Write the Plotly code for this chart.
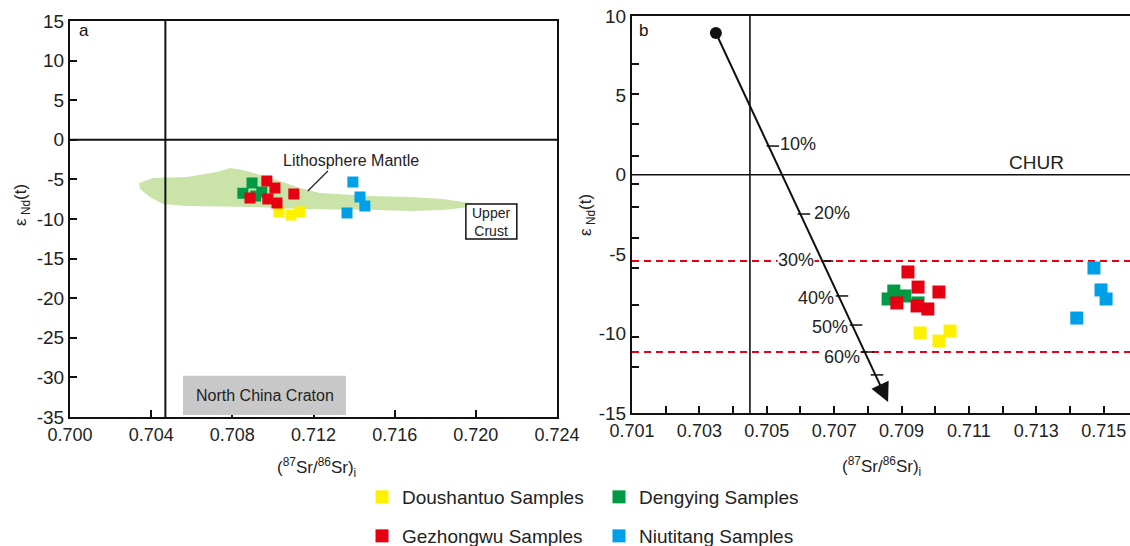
import plotly.graph_objects as go

FONT = "Liberation Sans, Arial, sans-serif"
W, H = 1130, 546

# ---------------- Data: panel a ----------------
a_dou_x = [0.7103, 0.71089, 0.71133]
a_dou_y = [-9.1, -9.5, -9.1]
a_den_x = [0.70897, 0.70852, 0.70945, 0.70915]
a_den_y = [-5.45, -6.75, -6.6, -7.1]
a_gez_x = [0.7097, 0.7101, 0.71103, 0.70887, 0.70975, 0.7102]
a_gez_y = [-5.2, -6.09, -6.84, -7.35, -7.47, -7.98]
a_niu_x = [0.71394, 0.71429, 0.71453, 0.71365]
a_niu_y = [-5.33, -7.22, -8.36, -9.24]

# Lithosphere mantle field outline
lm_x = [0.70340, 0.70409, 0.70576, 0.70724, 0.70788, 0.70852, 0.70936, 0.71020,
        0.71133, 0.71232, 0.71478, 0.71675, 0.71837, 0.71970, 0.72010, 0.71970,
        0.71837, 0.71675, 0.71512, 0.71133, 0.70901, 0.70576, 0.70458, 0.70394, 0.70345]
lm_y = [-5.45, -4.82, -4.70, -4.07, -3.56, -3.81, -4.44, -5.08,
        -6.09, -6.72, -7.10, -7.22, -7.47, -7.98, -8.23, -8.48,
        -8.86, -8.99, -8.86, -8.74, -8.48, -8.36, -8.11, -7.22, -6.20]

# tick labels
a_xticks = [0.700, 0.704, 0.708, 0.712, 0.716, 0.720, 0.724]
a_xlabels = ["0.700", "0.704", "0.708", "0.712", "0.716", "0.720", "0.724"]
a_yticks = [-35, -30, -25, -20, -15, -10, -5, 0, 5, 10, 15]
a_ylabels = ["-35", "-30", "-25", "-20", "-15", "-10", "-5", "0", "5", "10", "15"]
b_yticks = [-15, -10, -5, 0, 5, 10]
b_ylabels = ["-15", "-10", "-5", "0", "5", "10"]
b_yminor = [7.0, 5.1, 3.2, 1.2, -0.6, -2.0, -4.0, -5.9, -8.2, -10.2, -12.1]

# ---------------- Data: panel b ----------------
b_dou_x = [0.70955, 0.71011, 0.71044]
b_dou_y = [-9.96, -10.47, -9.84]
b_den_x = [0.70877, 0.70860, 0.70910, 0.70949]
b_den_y = [-7.32, -7.82, -7.63, -8.07]
b_gez_x = [0.70919, 0.70949, 0.71011, 0.70886, 0.70946, 0.70978]
b_gez_y = [-6.12, -7.07, -7.38, -8.07, -8.26, -8.45]
b_niu_x = [0.71471, 0.71492, 0.71507, 0.71420]
b_niu_y = [-5.87, -7.25, -7.82, -9.02]

# mixing line
mix_start = (0.70349, 8.93)
mix_end = (0.70860, -14.31)
mix_pct = ["10%", "20%", "30%", "40%", "50%", "60%"]
mix_tick_x = [0.70518, 0.70610, 0.70679, 0.70723, 0.70765, 0.70800, 0.70827]
mix_tick_y = [1.81, -2.47, -5.43, -7.63, -9.46, -11.16, -12.6]
mix_lab_x = [0.70593, 0.70693, 0.70587, 0.70646, 0.70688, 0.70723]
mix_lab_y = [1.94, -2.41, -5.37, -7.76, -9.58, -11.47]
dash_y = [-5.43, -11.16]

BSE_A = 0.7047
BSE_B = 0.7045

groups = ["Doushantuo Samples", "Dengying Samples", "Gezhongwu Samples", "Niutitang Samples"]
colors = ["#fff100", "#009944", "#e60012", "#00a0e9"]
legends = ["legend", "legend", "legend2", "legend2"]

fig = go.Figure()

# ---- panel a ----
fig.add_trace(go.Scatter(x=lm_x, y=lm_y, fill="toself", mode="lines",
                         line=dict(width=0, color="#c9e3a9"), fillcolor="#c9e3a9",
                         showlegend=False, hoverinfo="skip", xaxis="x", yaxis="y"))
a_sets = [(a_dou_x, a_dou_y), (a_den_x, a_den_y), (a_gez_x, a_gez_y), (a_niu_x, a_niu_y)]
for i in range(4):
    xs, ys = a_sets[i]
    fig.add_trace(go.Scatter(x=xs, y=ys, mode="markers", name=groups[i],
                             marker=dict(symbol="square", size=11, color=colors[i]),
                             showlegend=False, xaxis="x", yaxis="y"))

# ---- panel b ----
b_sets = [(b_dou_x, b_dou_y), (b_den_x, b_den_y), (b_gez_x, b_gez_y), (b_niu_x, b_niu_y)]
for i in range(4):
    xs, ys = b_sets[i]
    fig.add_trace(go.Scatter(x=xs, y=ys, mode="markers", name=groups[i],
                             marker=dict(symbol="square", size=13, color=colors[i]),
                             legend=legends[i], showlegend=True, xaxis="x2", yaxis="y2"))

fig.add_trace(go.Scatter(x=mix_tick_x, y=mix_tick_y, mode="markers",
                         marker=dict(symbol="line-ew-open", size=9, color="#111",
                                     line=dict(width=1.5, color="#111")),
                         showlegend=False, hoverinfo="skip", xaxis="x2", yaxis="y2"))
fig.add_trace(go.Scatter(x=[mix_start[0]], y=[mix_start[1]], mode="markers",
                         marker=dict(symbol="circle", size=12, color="#111"),
                         showlegend=False, hoverinfo="skip", xaxis="x2", yaxis="y2"))

shapes = []
shapes.append(dict(type="line", xref="x", yref="y domain", x0=BSE_A, x1=BSE_A, y0=0, y1=1,
                   line=dict(color="#111", width=2)))
shapes.append(dict(type="line", xref="x domain", yref="y", x0=0, x1=1, y0=0, y1=0,
                   line=dict(color="#111", width=2)))
shapes.append(dict(type="rect", xref="x", yref="y", x0=0.70557, x1=0.71360, y0=-34.75, y1=-29.8,
                   fillcolor="#c8c8c8", line=dict(width=0), layer="above"))
shapes.append(dict(type="rect", xref="x", yref="y", x0=0.71951, x1=0.72202, y0=-12.53, y1=-8.11,
                   fillcolor="white", line=dict(width=1.5, color="#111"), layer="above"))
shapes.append(dict(type="line", xref="x", yref="y", x0=0.71271, y0=-3.94, x1=0.71172, y1=-6.46,
                   line=dict(color="#222", width=1.2)))
shapes.append(dict(type="line", xref="x2", yref="y2 domain", x0=BSE_B, x1=BSE_B, y0=0, y1=1,
                   line=dict(color="#111", width=1.6)))
shapes.append(dict(type="line", xref="x2 domain", yref="y2", x0=0, x1=1, y0=0, y1=0,
                   line=dict(color="#111", width=1.6)))
for yv in dash_y:
    shapes.append(dict(type="line", xref="x2 domain", yref="y2", x0=0, x1=1, y0=yv, y1=yv,
                       line=dict(color="#e60012", width=2, dash="7px,5px"), layer="below"))

ann = []
ann.append(dict(text="a", x=84 / W, y=1 - 30 / H, xref="paper", yref="paper", showarrow=False,
                xanchor="center", yanchor="middle", font=dict(size=17, color="#111")))
ann.append(dict(text="b", x=643 / W, y=1 - 30 / H, xref="paper", yref="paper", showarrow=False,
                xanchor="center", yanchor="middle", font=dict(size=17, color="#111")))
ann.append(dict(text="Lithosphere Mantle", x=0.71384, y=-2.55, xref="x", yref="y", showarrow=False,
                font=dict(size=16, color="#222")))
ann.append(dict(text="Upper<br>Crust", x=(0.71951 + 0.72202) / 2, y=(-12.53 - 8.11) / 2, xref="x", yref="y",
                showarrow=False, font=dict(size=14, color="#222")))
ann.append(dict(text="North China Craton", x=(0.70557 + 0.71360) / 2, y=-32.3, xref="x", yref="y",
                showarrow=False, font=dict(size=16, color="#222")))
ann.append(dict(text="CHUR", x=0.71300, y=0, xref="x2", yref="y2", yanchor="bottom", yshift=0,
                showarrow=False, font=dict(size=19, color="#222")))
for t, lx, ly in zip(mix_pct, mix_lab_x, mix_lab_y):
    ann.append(dict(text=t, x=lx, y=ly, xref="x2", yref="y2", showarrow=False,
                    bgcolor="white", borderpad=0, font=dict(size=18, color="#222")))
ann.append(dict(x=mix_end[0], y=mix_end[1], ax=mix_start[0], ay=mix_start[1],
                xref="x2", yref="y2", axref="x2", ayref="y2", text="", showarrow=True,
                arrowhead=2, arrowsize=1.9, arrowwidth=2, arrowcolor="#111"))
# axis titles
ann.append(dict(text="ε<sub> Nd</sub>(t)", x=22 / W, y=1 - 205 / H, xref="paper", yref="paper",
                xanchor="center", yanchor="middle",
                textangle=-90, showarrow=False, font=dict(size=17, color="#222")))
ann.append(dict(text="ε<sub> Nd</sub>(t)", x=587 / W, y=1 - 215 / H, xref="paper", yref="paper",
                xanchor="center", yanchor="middle",
                textangle=-90, showarrow=False, font=dict(size=17, color="#222")))
ann.append(dict(text="(<sup>87</sup>Sr/<sup>86</sup>Sr)<sub>i</sub>", x=316 / W, y=1 - 467 / H,
                xanchor="center", yanchor="middle",
                xref="paper", yref="paper", showarrow=False, font=dict(size=17, color="#222")))
ann.append(dict(text="(<sup>87</sup>Sr/<sup>86</sup>Sr)<sub>i</sub>", x=882 / W, y=1 - 466 / H,
                xanchor="center", yanchor="middle",
                xref="paper", yref="paper", showarrow=False, font=dict(size=17, color="#222")))

axis_common = dict(showgrid=False, zeroline=False, showline=True, linecolor="#111", linewidth=2,
                   ticks="inside", tickcolor="#111", tickwidth=1.5, automargin=False)

fig.update_layout(
    width=W, height=H, margin=dict(l=0, r=0, t=0, b=0, autoexpand=False),
    paper_bgcolor="white", plot_bgcolor="white",
    font=dict(family=FONT, color="#222"),
    xaxis=dict(domain=[70 / W, 557 / W], range=[0.700, 0.724], tickvals=a_xticks, ticktext=a_xlabels,
               mirror=True, anchor="y", ticklen=7, tickfont=dict(size=18, color="#222"), **axis_common),
    yaxis=dict(domain=[1 - 417 / H, 1 - 21 / H], range=[-35, 15], tickvals=a_yticks, ticktext=a_ylabels,
               mirror=True, anchor="x", ticklen=7, tickfont=dict(size=19, color="#222"), **axis_common),
    xaxis2=dict(domain=[632 / W, 1.0], range=[0.701, 0.71578], tick0=0.701, dtick=0.002,
                tickformat=".3f", mirror=True, anchor="y2", ticklen=7, tickfont=dict(size=18, color="#222"),
                minor=dict(dtick=0.001, tick0=0.701, ticks="inside", ticklen=7, tickcolor="#111", tickwidth=1.5),
                **axis_common),
    yaxis2=dict(domain=[1 - 413 / H, 1 - 16 / H], range=[-15, 10], tickvals=b_yticks, ticktext=b_ylabels,
                mirror=False, anchor="x2", ticklen=0, tickfont=dict(size=19, color="#222"),
                minor=dict(tickmode="array", tickvals=b_yminor, ticks="inside", ticklen=7,
                           tickcolor="#111", tickwidth=1.5),
                **axis_common),
    shapes=shapes, annotations=ann,
    legend=dict(orientation="h", x=362 / W, y=1 - 497 / H, xanchor="left", yanchor="middle",
                entrywidth=192, entrywidthmode="pixels", font=dict(size=19, color="#222"),
                bgcolor="rgba(0,0,0,0)"),
    legend2=dict(orientation="h", x=362 / W, y=1 - 536 / H, xanchor="left", yanchor="middle",
                 entrywidth=192, entrywidthmode="pixels", font=dict(size=19, color="#222"),
                 bgcolor="rgba(0,0,0,0)"),
)

fig.write_html("out.html")
